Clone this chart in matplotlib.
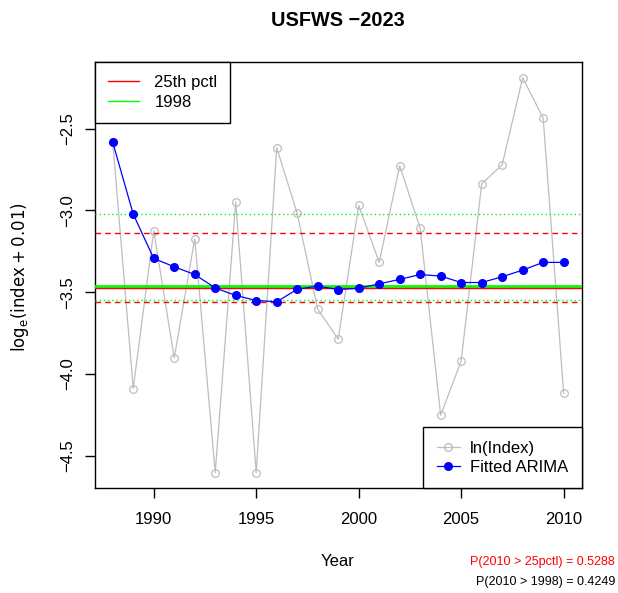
import matplotlib
matplotlib.use("Agg")
import matplotlib.pyplot as plt
from matplotlib.lines import Line2D

plt.rcParams["font.family"] = ["Liberation Sans", "DejaVu Sans"]

years = list(range(1988, 2011))
ln_index = [-2.584, -4.089, -3.125, -3.902, -3.174, -4.603, -2.950, -4.603,
            -2.617, -3.019, -3.604, -3.787, -2.970, -3.318, -2.727, -3.110,
            -4.252, -3.920, -2.839, -2.721, -2.189, -2.436, -4.118]
fitted = [-2.584, -3.023, -3.294, -3.345, -3.392, -3.474, -3.520, -3.551,
          -3.559, -3.482, -3.463, -3.484, -3.476, -3.449, -3.422, -3.392,
          -3.402, -3.441, -3.441, -3.406, -3.365, -3.318, -3.318]

pctl25 = -3.474
pctl25_band = [-3.563, -3.137]
ref_1998 = -3.463
ref_1998_band = [-3.549, -3.021]

p_pctl = 0.5288
p_1998 = 0.4249

GRAY = "#BEBEBE"
GREEN = "#00FF00"
W, H = 618, 593

fig = plt.figure(figsize=(W / 100, H / 100), dpi=100)
ax = fig.add_axes([94.7 / W, 1 - 488 / H, 487 / W, 425.7 / H])

ax.plot(years, ln_index, color=GRAY, lw=0.9, marker="o", ms=5.5,
        mfc="none", mec=GRAY, mew=0.9, zorder=2)
ax.plot(years, fitted, color="blue", lw=0.9, marker="o", ms=5.5,
        mfc="blue", mec="blue", zorder=4)

ax.axhline(ref_1998, color=GREEN, lw=2, zorder=3)
ax.axhline(pctl25, color="red", lw=1, zorder=3)
for v in pctl25_band:
    ax.axhline(v, color="red", lw=1, ls=(0, (4, 3)), zorder=3)
for v in ref_1998_band:
    ax.axhline(v, color=GREEN, lw=1, ls=(0, (1, 2)), zorder=3)

ax.set_xlim(1987.12, 2010.88)
ax.set_ylim(-4.697, -2.095)
ax.set_xticks([1990, 1995, 2000, 2005, 2010])
ax.set_yticks([-4.5, -4.0, -3.5, -3.0, -2.5])
ax.set_yticklabels(["\u22124.5", "\u22124.0", "\u22123.5", "\u22123.0", "\u22122.5"],
                   rotation=90, va="center")
ax.tick_params(direction="out", length=7.2, width=1, labelsize=12)
ax.tick_params(axis="x", pad=10)
ax.tick_params(axis="y", pad=7)
for s in ax.spines.values():
    s.set_linewidth(1)

fig.text(338 / W, 1 - 21 / H, "USFWS \u22122023", fontsize=14.3, fontweight="bold",
         ha="center", va="center")
fig.text(338 / W, 1 - 562 / H, "Year", fontsize=12, ha="center", va="center")
fig.text(20 / W, 1 - 277 / H, r"$\mathrm{log_e(index + 0.01)}$", fontsize=12,
         rotation=90, ha="center", va="center")

leg1 = ax.legend(handles=[Line2D([], [], color="red", lw=1),
                          Line2D([], [], color=GREEN, lw=1)],
                 labels=["25th pctl", "1998"], loc="upper left",
                 borderaxespad=0, fancybox=False, framealpha=1,
                 edgecolor="black", fontsize=12, handlelength=1.9,
                 handletextpad=0.9, borderpad=0.78, labelspacing=0.3)
leg1.get_frame().set_linewidth(1)
ax.add_artist(leg1)

leg2 = ax.legend(handles=[Line2D([], [], color=GRAY, lw=0.9, marker="o", ms=5.5,
                                 mfc="none", mec=GRAY),
                          Line2D([], [], color="blue", lw=0.9, marker="o", ms=5.5,
                                 mfc="blue", mec="blue")],
                 labels=["ln(Index)", "Fitted ARIMA"], loc="lower right",
                 borderaxespad=0, fancybox=False, framealpha=1,
                 edgecolor="black", fontsize=12, handlelength=1.4,
                 handletextpad=0.6, borderpad=0.8, labelspacing=0.24)
leg2.get_frame().set_linewidth(1)

fig.text(0.995, 1 - 562 / H, f"P(2010 > 25pctl) = {p_pctl:.4f}", color="red",
         ha="right", va="center", fontsize=9)
fig.text(0.995, 1 - 582 / H, f"P(2010 > 1998) = {p_1998:.4f}", color="black",
         ha="right", va="center", fontsize=9)

fig.savefig("out.png", dpi=100)
